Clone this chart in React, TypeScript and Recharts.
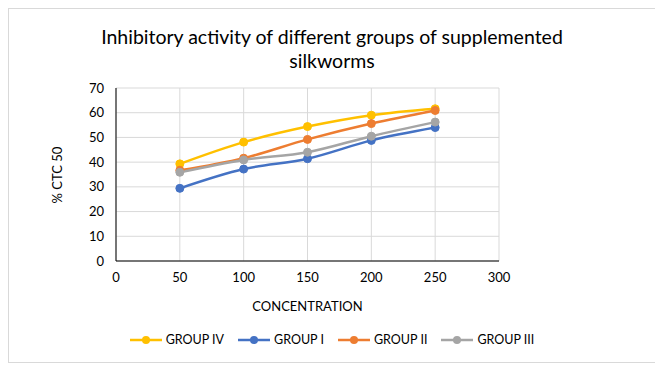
import React from "react";
import { CartesianGrid, Legend, Line, LineChart, XAxis, YAxis } from "recharts";

const concentrations = [50, 100, 150, 200, 250];
const groupIV = [39.3, 48.1, 54.4, 59.0, 61.6];
const groupI = [29.4, 37.2, 41.4, 48.8, 54.0];
const groupII = [36.7, 41.6, 49.2, 55.6, 60.9];
const groupIII = [35.9, 40.9, 44.0, 50.5, 56.2];
const xTicks = [0, 50, 100, 150, 200, 250, 300];
const yTicks = [0, 10, 20, 30, 40, 50, 60, 70];

const series = [
    { key: "iv", name: "GROUP IV", color: "#FFC000", values: groupIV },
    { key: "i", name: "GROUP I", color: "#4472C4", values: groupI },
    { key: "ii", name: "GROUP II", color: "#ED7D31", values: groupII },
    { key: "iii", name: "GROUP III", color: "#A5A5A5", values: groupIII },
];

const data = concentrations.map((c, idx) => {
    const row: Record<string, number> = { x: c };
    series.forEach((s) => (row[s.key] = s.values[idx]));
    return row;
});

const font = "Lato, 'Open Sans', sans-serif";

function LegendContent() {
    return (
        <div style={{ display: "flex", justifyContent: "center", gap: 14, fontFamily: font, fontSize: 12.5, color: "#000" }}>
            {series.map((s) => (
                <div key={s.key} style={{ display: "flex", alignItems: "center", gap: 4 }}>
                    <svg width={32} height={10}>
                        <line x1={0} y1={5} x2={32} y2={5} stroke={s.color} strokeWidth={2.5} />
                        <circle cx={16} cy={5} r={4} fill={s.color} />
                    </svg>
                    <span>{s.name}</span>
                </div>
            ))}
        </div>
    );
}

export default function App() {
    return (
        <div style={{ position: "relative", width: 648, height: 355, border: "1px solid #d9d9d9", boxSizing: "border-box", background: "#fff" }}>
            <div style={{ position: "absolute", top: 16, left: 0, width: "100%", textAlign: "center", fontFamily: font, fontSize: 19.5, lineHeight: "24px", color: "#000" }}>
                Inhibitory activity of different groups of supplemented
                <br />
                silkworms
            </div>
            <LineChart width={646} height={353} data={data} margin={{ top: 79, right: 156, bottom: 51, left: 57 }}>
                <CartesianGrid stroke="#d9d9d9" />
                <XAxis
                    dataKey="x"
                    type="number"
                    domain={[0, 300]}
                    ticks={xTicks}
                    height={50}
                    tickLine={false}
                    tickMargin={6}
                    axisLine={{ stroke: "#000" }}
                    tick={{ fill: "#000", fontSize: 13, fontFamily: font }}
                    label={{ value: "CONCENTRATION", position: "insideBottom", offset: 0, fill: "#000", fontSize: 13, fontFamily: font }}
                />
                <YAxis
                    type="number"
                    domain={[0, 70]}
                    ticks={yTicks}
                    width={50}
                    tickLine={false}
                    tickMargin={6}
                    axisLine={{ stroke: "#000" }}
                    tick={{ fill: "#000", fontSize: 13, fontFamily: font }}
                    label={{
                        content: () => (
                            <text x={48} y={166} transform="rotate(-90 48 166)" textAnchor="middle" dominantBaseline="central" fill="#000" fontSize={13} fontFamily={font}>
                                % CTC 50
                            </text>
                        ),
                    }}
                />
                <Legend layout="horizontal" verticalAlign="middle" align="center" wrapperStyle={{ top: 323, left: 0, width: 646 }} content={() => <LegendContent />} />
                {series.map((s) => (
                    <Line
                        key={s.key}
                        type="monotone"
                        dataKey={s.key}
                        name={s.name}
                        stroke={s.color}
                        strokeWidth={2.5}
                        dot={{ r: 4, fill: s.color, stroke: s.color, strokeWidth: 1 }}
                        activeDot={false}
                        isAnimationActive={false}
                    />
                ))}
            </LineChart>
        </div>
    );
}
